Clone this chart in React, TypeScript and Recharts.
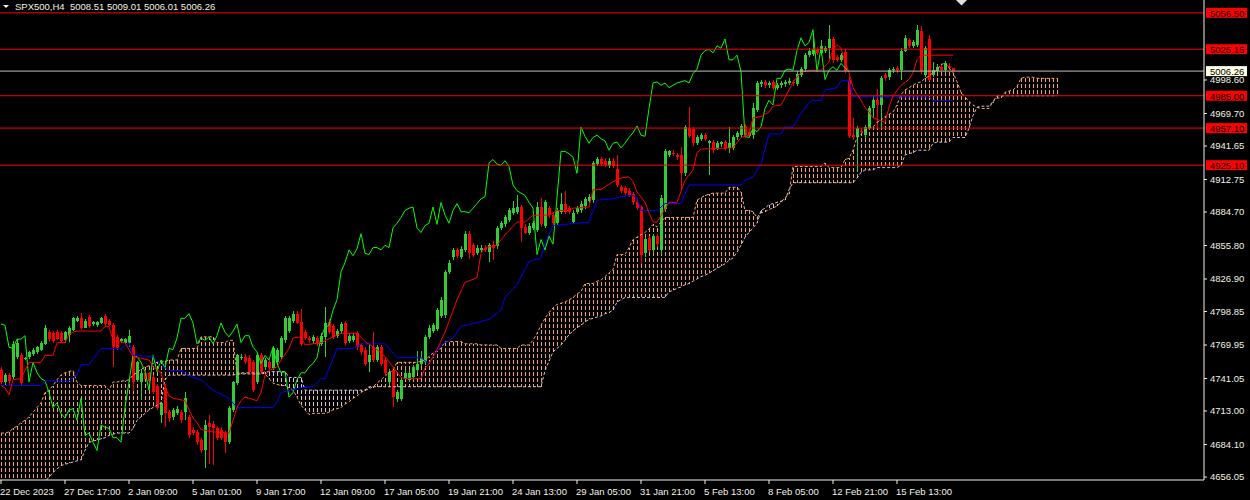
import React from "react";
import { Bar, ComposedChart, Line, ReferenceLine, XAxis, YAxis } from "recharts";

// open, high, low, close per H4 bar, from 22 Dec 2023 onwards
const candles: [number, number, number, number][] = [
  [4748, 4751, 4736, 4738], [4738, 4746, 4735, 4744], [4744, 4746, 4736, 4739], [4742, 4773, 4740, 4771],
  [4760, 4775, 4758, 4772], [4761, 4763, 4735, 4737], [4758, 4760, 4757, 4759], [4760, 4765, 4758, 4764],
  [4762, 4767, 4760, 4766], [4764, 4769, 4762, 4768], [4766, 4773, 4764, 4772], [4771, 4787, 4770, 4785],
  [4781, 4783, 4773, 4775], [4780, 4782, 4772, 4773], [4781, 4783, 4774, 4775], [4780, 4782, 4772, 4773],
  [4774, 4782, 4772, 4781], [4779, 4786, 4772, 4785], [4783, 4794, 4782, 4793], [4791, 4795, 4790, 4793],
  [4793, 4798, 4784, 4785], [4785, 4792, 4784, 4791], [4794, 4796, 4785, 4786], [4788, 4791, 4787, 4790],
  [4787, 4791, 4786, 4790], [4789, 4794, 4788, 4793], [4795, 4797, 4787, 4788], [4791, 4792, 4786, 4787],
  [4787, 4789, 4751, 4768], [4777, 4779, 4766, 4767], [4773, 4776, 4772, 4775], [4772, 4776, 4771, 4775],
  [4772, 4783, 4768, 4778], [4768, 4770, 4730, 4738], [4740, 4756, 4738, 4755], [4738, 4748, 4722, 4746],
  [4746, 4748, 4740, 4741], [4746, 4747, 4738, 4739], [4742, 4744, 4728, 4729], [4735, 4736, 4714, 4716],
  [4710, 4721, 4703, 4720], [4733, 4736, 4699, 4711], [4712, 4714, 4704, 4707], [4708, 4716, 4706, 4714],
  [4711, 4717, 4709, 4715], [4712, 4714, 4703, 4705], [4712, 4729, 4705, 4724], [4708, 4710, 4690, 4692],
  [4697, 4699, 4692, 4694], [4695, 4697, 4684, 4686], [4688, 4690, 4677, 4679], [4679, 4705, 4664, 4701],
  [4703, 4710, 4668, 4699], [4702, 4704, 4666, 4698], [4698, 4700, 4688, 4690], [4697, 4699, 4688, 4690],
  [4694, 4696, 4677, 4686], [4686, 4717, 4684, 4716], [4714, 4739, 4712, 4738], [4737, 4762, 4735, 4761],
  [4759, 4762, 4757, 4760], [4760, 4762, 4753, 4755], [4759, 4761, 4745, 4747], [4755, 4757, 4729, 4731],
  [4738, 4763, 4736, 4761], [4761, 4763, 4745, 4747], [4751, 4759, 4749, 4757], [4755, 4757, 4748, 4750],
  [4750, 4769, 4748, 4767], [4755, 4767, 4752, 4766], [4760, 4778, 4758, 4776], [4774, 4795, 4772, 4793],
  [4782, 4795, 4780, 4793], [4791, 4799, 4789, 4797], [4797, 4799, 4788, 4789], [4790, 4801, 4769, 4771],
  [4781, 4783, 4774, 4776], [4776, 4778, 4772, 4774], [4773, 4779, 4771, 4777], [4776, 4778, 4769, 4771],
  [4771, 4780, 4769, 4778], [4777, 4803, 4760, 4789], [4790, 4792, 4779, 4781], [4786, 4788, 4775, 4777],
  [4778, 4784, 4776, 4782], [4782, 4790, 4780, 4788], [4789, 4791, 4770, 4772], [4773, 4780, 4771, 4778],
  [4774, 4780, 4772, 4778], [4780, 4782, 4766, 4768], [4770, 4772, 4762, 4764], [4766, 4768, 4752, 4754],
  [4755, 4770, 4747, 4761], [4768, 4781, 4755, 4757], [4757, 4770, 4755, 4768], [4768, 4770, 4752, 4754],
  [4757, 4759, 4744, 4746], [4738, 4749, 4735, 4747], [4748, 4750, 4716, 4725], [4723, 4731, 4721, 4729],
  [4723, 4742, 4721, 4740], [4741, 4748, 4739, 4746], [4740, 4748, 4738, 4746], [4742, 4753, 4740, 4751],
  [4748, 4765, 4746, 4754], [4754, 4765, 4752, 4759], [4755, 4779, 4753, 4777], [4777, 4787, 4775, 4785],
  [4782, 4789, 4780, 4787], [4784, 4802, 4782, 4800], [4795, 4811, 4793, 4809], [4796, 4835, 4794, 4833],
  [4833, 4843, 4831, 4841], [4846, 4854, 4844, 4852], [4852, 4854, 4845, 4847], [4846, 4855, 4844, 4853],
  [4852, 4868, 4850, 4866], [4866, 4868, 4844, 4849], [4856, 4858, 4846, 4848], [4849, 4856, 4847, 4854],
  [4852, 4856, 4850, 4854], [4854, 4856, 4850, 4852], [4850, 4858, 4842, 4856], [4856, 4860, 4844, 4854],
  [4855, 4873, 4853, 4871], [4871, 4877, 4869, 4875], [4874, 4882, 4872, 4880], [4878, 4888, 4876, 4886],
  [4884, 4894, 4882, 4888], [4885, 4899, 4883, 4889], [4889, 4891, 4859, 4871], [4872, 4874, 4865, 4867],
  [4867, 4875, 4865, 4873], [4871, 4877, 4869, 4875], [4869, 4893, 4867, 4889], [4889, 4897, 4872, 4874],
  [4873, 4895, 4871, 4893], [4888, 4890, 4880, 4882], [4882, 4884, 4873, 4875], [4875, 4888, 4873, 4886],
  [4885, 4901, 4883, 4892], [4892, 4903, 4883, 4885], [4888, 4890, 4883, 4885], [4876, 4886, 4874, 4884],
  [4885, 4890, 4883, 4888], [4886, 4894, 4884, 4892], [4890, 4898, 4888, 4896], [4894, 4900, 4892, 4898],
  [4895, 4929, 4893, 4927], [4926, 4932, 4924, 4930], [4930, 4932, 4924, 4926], [4929, 4931, 4923, 4925],
  [4924, 4931, 4922, 4929], [4929, 4931, 4922, 4924], [4922, 4934, 4906, 4908], [4906, 4908, 4901, 4903],
  [4905, 4907, 4899, 4901], [4903, 4905, 4897, 4899], [4900, 4902, 4891, 4893], [4893, 4895, 4886, 4888],
  [4889, 4891, 4840, 4848], [4849, 4863, 4846, 4861], [4862, 4864, 4850, 4852], [4852, 4866, 4850, 4864],
  [4864, 4866, 4855, 4857], [4852, 4899, 4848, 4897], [4887, 4939, 4885, 4937], [4934, 4938, 4932, 4937],
  [4936, 4938, 4933, 4935], [4934, 4936, 4930, 4932], [4934, 4941, 4904, 4918], [4918, 4960, 4916, 4958],
  [4957, 4975, 4948, 4950], [4956, 4958, 4942, 4944], [4944, 4951, 4942, 4949], [4948, 4953, 4946, 4951],
  [4951, 4953, 4946, 4948], [4944, 4947, 4917, 4946], [4945, 4947, 4936, 4938], [4940, 4946, 4938, 4944],
  [4943, 4946, 4941, 4945], [4945, 4947, 4938, 4940], [4940, 4958, 4936, 4944], [4940, 4951, 4938, 4949],
  [4949, 4955, 4947, 4953], [4951, 4961, 4949, 4959], [4959, 4961, 4949, 4951], [4954, 4956, 4948, 4950],
  [4951, 4979, 4948, 4974], [4973, 4998, 4971, 4996], [4995, 4999, 4993, 4997], [4997, 4999, 4992, 4994],
  [4994, 4998, 4992, 4996], [4997, 4999, 4990, 4992], [4992, 4996, 4990, 4994], [4994, 4998, 4992, 4996],
  [4995, 4999, 4993, 4997], [4996, 5000, 4994, 4998], [4997, 4999, 4994, 4996], [4995, 5006, 4993, 5004],
  [5003, 5010, 5001, 5008], [5008, 5022, 5006, 5020], [5020, 5026, 5018, 5024], [5021, 5039, 5019, 5025],
  [5025, 5027, 5020, 5022], [5022, 5033, 5020, 5028], [5024, 5028, 5022, 5026], [5026, 5046, 5017, 5034],
  [5034, 5036, 5014, 5016], [5018, 5020, 5014, 5016], [5016, 5022, 5014, 5020], [5023, 5025, 5004, 5006],
  [4999, 5001, 4948, 4950], [4951, 4966, 4947, 4949], [4949, 4959, 4919, 4957], [4955, 4957, 4952, 4954],
  [4951, 4960, 4949, 4958], [4957, 4976, 4955, 4974], [4974, 4985, 4966, 4981], [4981, 4991, 4957, 4977],
  [4977, 5002, 4957, 5000], [5003, 5005, 4998, 5000], [5001, 5009, 4999, 5007], [5007, 5010, 5005, 5008],
  [5009, 5011, 5005, 5007], [5007, 5026, 4998, 5024], [5024, 5037, 5022, 5035], [5033, 5035, 5026, 5028],
  [5028, 5033, 5026, 5031], [5029, 5046, 5027, 5042], [5041, 5045, 5004, 5006], [5003, 5028, 5001, 5026],
  [5034, 5037, 4997, 4999], [5003, 5014, 5001, 5007], [5006, 5012, 5004, 5010], [5010, 5012, 5005, 5007],
  [5007, 5015, 5005, 5013], [5011, 5013, 5007, 5009], [5008.51, 5009.01, 5006.01, 5006.26],
];

// Tenkan-sen and Kijun-sen turning points: [bar, price]
const tenkan: [number, number][] = [
  [0, 4735], [1, 4733], [2, 4727], [3, 4740], [5, 4741], [6, 4748], [7, 4755], [10, 4755], [11, 4761],
  [13, 4761], [14, 4772], [16, 4772], [17, 4779], [18, 4781], [19, 4782], [25, 4782], [26, 4786], [27, 4786],
  [28, 4774], [31, 4772], [32, 4766], [33, 4760], [37, 4757], [38, 4751], [40, 4746], [41, 4734], [42, 4726],
  [43, 4724], [46, 4722], [48, 4707], [49, 4703], [50, 4697], [53, 4695], [57, 4694], [58, 4705], [59, 4716],
  [60, 4722], [61, 4725], [64, 4722], [65, 4729], [66, 4744], [67, 4748], [69, 4751], [70, 4757], [72, 4767],
  [73, 4776], [75, 4777], [76, 4770], [80, 4772], [83, 4777], [85, 4780], [89, 4780], [91, 4773], [94, 4766],
  [96, 4760], [98, 4751], [100, 4742], [101, 4741], [105, 4741], [106, 4750], [107, 4754], [109, 4766],
  [111, 4781], [114, 4809], [116, 4824], [119, 4828], [120, 4849], [121, 4854], [124, 4856], [126, 4865],
  [129, 4876], [131, 4876], [133, 4882], [137, 4882], [139, 4886], [142, 4886], [143, 4888], [147, 4889],
  [148, 4904], [150, 4904], [153, 4911], [155, 4914], [157, 4915], [158, 4911], [159, 4902], [161, 4893],
  [162, 4884], [163, 4876], [164, 4876], [167, 4893], [169, 4893], [171, 4912], [173, 4921], [174, 4936],
  [175, 4939], [183, 4940], [185, 4949], [187, 4951], [188, 4966], [190, 4967], [192, 4971], [193, 4976],
  [195, 4977], [197, 4990], [198, 4997], [200, 5005], [202, 5007], [205, 5007], [207, 5014], [208, 5025],
  [209, 5029], [210, 5026], [211, 5014], [212, 5005], [213, 4992], [215, 4981], [216, 4975], [217, 4971],
  [218, 4966], [221, 4962], [222, 4975], [223, 4985], [225, 4994], [227, 4999], [228, 5005], [229, 5016],
  [230, 5020], [238, 5020],
];

const kijun: [number, number][] = [
  [0, 4735], [10, 4735], [11, 4739], [17, 4739], [19, 4744], [20, 4753], [22, 4753], [25, 4767], [30, 4767],
  [32, 4772], [33, 4761], [38, 4760], [40, 4753], [42, 4748], [45, 4748], [48, 4742], [50, 4740], [53, 4731],
  [57, 4724], [59, 4716], [68, 4716], [69, 4721], [70, 4729], [75, 4733], [78, 4734], [80, 4741], [81, 4741],
  [84, 4767], [88, 4767], [90, 4771], [96, 4771], [99, 4759], [105, 4759], [107, 4754], [110, 4770],
  [113, 4776], [115, 4786], [122, 4792], [125, 4800], [126, 4811], [129, 4822], [132, 4842], [135, 4845],
  [136, 4858], [138, 4873], [147, 4876], [148, 4886], [149, 4895], [153, 4896], [155, 4898], [158, 4899],
  [159, 4897], [160, 4886], [164, 4886], [166, 4892], [170, 4892], [172, 4908], [185, 4908], [186, 4912],
  [188, 4915], [190, 4926], [192, 4952], [195, 4952], [196, 4958], [198, 4958], [200, 4970], [202, 4979],
  [203, 4981], [205, 4981], [206, 4990], [209, 4992], [210, 4998], [212, 4998], [213, 4984], [232, 4984],
  [233, 4981], [238, 4981],
];

// Senkou Span A / B per bar (cloud runs 26 bars past the last candle)
const spanA = [
  4694, 4694, 4695, 4698, 4700, 4703, 4705, 4708, 4712, 4716,
  4720, 4729, 4731, 4735, 4740, 4744, 4746, 4747, 4748, 4738,
  4735, 4735, 4735, 4735, 4735, 4735, 4735, 4731, 4738, 4738,
  4739, 4739, 4740, 4744, 4746, 4749, 4751, 4752, 4754, 4755,
  4756, 4756, 4757, 4757, 4757, 4767, 4767, 4767, 4767, 4767,
  4777, 4777, 4777, 4777, 4772, 4772, 4772, 4774, 4774, 4746,
  4746, 4746, 4746, 4746, 4746, 4746, 4745, 4741, 4737, 4736,
  4735, 4735, 4733, 4731, 4725, 4718, 4714, 4710, 4711, 4711,
  4711, 4711, 4712, 4714, 4715, 4716, 4719, 4721, 4724, 4726,
  4729, 4731, 4732, 4734, 4737, 4740, 4743, 4746, 4748, 4755,
  4755, 4755, 4755, 4755, 4755, 4756, 4757, 4760, 4763, 4765,
  4767, 4773, 4773, 4773, 4773, 4773, 4771, 4771, 4771, 4771,
  4770, 4770, 4770, 4770, 4770, 4767, 4767, 4767, 4767, 4767,
  4770, 4770, 4770, 4774, 4780, 4787, 4793, 4798, 4802, 4805,
  4806, 4807, 4809, 4811, 4814, 4816, 4823, 4823, 4823, 4825,
  4826, 4829, 4832, 4835, 4848, 4848, 4848, 4854, 4861, 4863,
  4865, 4867, 4870, 4874, 4872, 4876, 4880, 4880, 4880, 4880,
  4880, 4880, 4880, 4880, 4895, 4897, 4899, 4900, 4901, 4901,
  4901, 4901, 4906, 4906, 4906, 4902, 4886, 4886, 4885, 4880,
  4884, 4885, 4887, 4888, 4890, 4893, 4897, 4900, 4924, 4924,
  4924, 4924, 4924, 4924, 4924, 4924, 4927, 4923, 4923, 4923,
  4923, 4930, 4931, 4938, 4949, 4952, 4955, 4957, 4958, 4962,
  4964, 4967, 4969, 4971, 4977, 4986, 4990, 4992, 4994, 4996,
  4997, 5000, 5002, 5005, 5007, 5012, 5013, 5009, 5005, 4997,
  4988, 4984, 4980, 4977, 4975, 4974, 4974, 4974, 4980, 4983,
  4983, 4988, 4989, 4990, 4993, 5000, 5001, 5001, 5001, 5000,
  5000, 5000, 5000, 5000, 5000,
];

const spanB = [
  4640, 4641, 4642, 4643, 4644, 4644, 4645, 4646, 4647, 4647,
  4648, 4652, 4656, 4660, 4663, 4666, 4667, 4668, 4669, 4670,
  4671, 4679, 4686, 4687, 4688, 4689, 4690, 4692, 4693, 4694,
  4694, 4694, 4694, 4698, 4705, 4708, 4711, 4714, 4716, 4718,
  4720, 4740, 4744, 4744, 4744, 4744, 4744, 4744, 4744, 4744,
  4744, 4744, 4744, 4744, 4744, 4744, 4744, 4744, 4744, 4745,
  4745, 4745, 4745, 4745, 4745, 4745, 4747, 4747, 4747, 4747,
  4747, 4747, 4742, 4742, 4742, 4742, 4731, 4731, 4731, 4731,
  4731, 4731, 4731, 4731, 4731, 4731, 4731, 4731, 4731, 4731,
  4731, 4731, 4734, 4734, 4734, 4734, 4734, 4734, 4734, 4734,
  4734, 4734, 4734, 4734, 4734, 4734, 4734, 4734, 4734, 4734,
  4734, 4734, 4734, 4734, 4734, 4734, 4734, 4734, 4734, 4734,
  4734, 4734, 4734, 4734, 4734, 4734, 4734, 4734, 4734, 4734,
  4734, 4734, 4734, 4734, 4734, 4734, 4748, 4756, 4764, 4767,
  4770, 4774, 4779, 4782, 4785, 4787, 4790, 4792, 4793, 4794,
  4795, 4797, 4798, 4800, 4807, 4809, 4811, 4811, 4811, 4811,
  4811, 4811, 4811, 4811, 4811, 4811, 4811, 4816, 4817, 4819,
  4820, 4822, 4823, 4825, 4827, 4829, 4830, 4832, 4834, 4836,
  4838, 4840, 4843, 4845, 4850, 4856, 4863, 4867, 4871, 4875,
  4886, 4888, 4891, 4892, 4893, 4894, 4895, 4904, 4910, 4910,
  4910, 4910, 4910, 4910, 4910, 4910, 4910, 4910, 4910, 4910,
  4910, 4910, 4910, 4910, 4914, 4919, 4921, 4921, 4921, 4923,
  4923, 4923, 4923, 4923, 4923, 4925, 4934, 4935, 4936, 4938,
  4938, 4938, 4938, 4944, 4945, 4945, 4945, 4945, 4949, 4949,
  4949, 4949, 4957, 4968, 4975, 4976, 4976, 4976, 4980, 4985,
  4985, 4985, 4985, 4985, 4985, 4985, 4985, 4985, 4985, 4985,
  4985, 4985, 4985, 4985, 4985,
];

const timeTicks = [0, 16, 32, 48, 64, 80, 96, 112, 128, 144, 160, 176, 192, 208, 224];
const timeLabels = [
  "22 Dec 2023", "27 Dec 17:00", "2 Jan 09:00", "5 Jan 01:00", "9 Jan 17:00", "12 Jan 09:00",
  "17 Jan 05:00", "19 Jan 21:00", "24 Jan 13:00", "29 Jan 05:00", "31 Jan 21:00", "5 Feb 13:00",
  "8 Feb 05:00", "12 Feb 21:00", "15 Feb 13:00",
];
const priceTicks = [
  4656.05, 4684.1, 4713.0, 4741.05, 4769.95, 4798.85, 4826.9, 4855.8, 4884.7, 4912.75, 4941.65, 4969.7, 4998.6,
];
const levels = [5056.5, 5025.15, 4985.0, 4957.1, 4925.1];
const bid = 5006.26;
const chikouShift = 26;

const FG = "#F2F2E6";
const FONT = '"Liberation Sans", Arial, sans-serif';
const BULL = "#32CD32";
const BEAR = "#FF0000";
const KUMO_UP = "#F4A460";
const KUMO_DOWN = "#D8BFD8";

const tenkanAt = new Map(tenkan);
const kijunAt = new Map(kijun);

const rows = spanA.map((a, i) => {
  const c = candles[i];
  const b = spanB[i];
  const ahead = candles[i + chikouShift];
  return {
    i,
    range: c ? [c[2], c[1]] : null,
    open: c ? c[0] : null,
    high: c ? c[1] : null,
    low: c ? c[2] : null,
    close: c ? c[3] : null,
    tenkan: tenkanAt.get(i) ?? null,
    kijun: kijunAt.get(i) ?? null,
    chikou: ahead ? ahead[3] : null,
    spanA: a,
    spanB: b,
    kumoUp: a >= b ? [b, a] : null,
    kumoDown: a < b ? [a, b] : null,
  };
});

function Candle(props: any) {
  const { x, y, width, height, payload } = props;
  if (!payload || payload.open == null) return null;
  const top = Math.min(y, y + height);
  const h = Math.abs(height);
  const { open, high, low, close } = payload;
  const span = high - low || 1;
  const px = (p: number) => top + ((high - p) / span) * h;
  const cx = Math.round(x + width / 2);
  const color = close >= open ? BULL : BEAR;
  const bTop = Math.round(px(Math.max(open, close)));
  const bBot = Math.round(px(Math.min(open, close)));
  return (
    <g shapeRendering="crispEdges">
      <rect x={cx} y={Math.round(top)} width={1} height={Math.max(1, Math.round(h))} fill={color} />
      <rect x={cx - 1} y={bTop} width={3} height={Math.max(1, bBot - bTop)} fill={color} />
    </g>
  );
}

// one dotted histogram column per bar, dashes kept on a common row grid
function makeKumoColumn(tone: string) {
  return function KumoColumn(props: any) {
    const { x, y, width, height } = props;
    if (x == null || y == null || !Number.isFinite(height)) return null;
    const y0 = Math.round(Math.min(y, y + height));
    const y1 = Math.max(y0 + 1, Math.round(Math.max(y, y + height)));
    const cx = Math.round(x + width / 2);
    const dashes = [];
    for (let t = y0 - (((y0 % 6) + 6) % 6); t < y1; t += 6) {
      const s = Math.max(t, y0);
      const e = Math.min(t + 4, y1);
      if (e > s) dashes.push(<rect key={t} x={cx} y={s} width={1} height={e - s} fill={tone} />);
    }
    return <g shapeRendering="crispEdges">{dashes}</g>;
  };
}
const KumoUpColumn = makeKumoColumn(KUMO_UP);
const KumoDownColumn = makeKumoColumn(KUMO_DOWN);

function TimeTick(props: any) {
  const { x, y, payload } = props;
  const label = timeLabels[timeTicks.indexOf(payload.value)];
  return (
    <text x={x - 1} y={y + 9} fill={FG} fontSize={9.5} fontFamily={FONT} textAnchor="start">
      {label}
    </text>
  );
}

function PriceTag(props: any) {
  const { viewBox, text, bg } = props;
  const left = viewBox.x + viewBox.width + 2;
  const y = viewBox.y;
  return (
    <g>
      <rect x={left} y={y - 5} width={41} height={10} fill={bg} />
      <text x={left + 4} y={y + 4} fontSize={9.5} fontFamily={FONT} fill="#000000">
        {text}
      </text>
    </g>
  );
}

export default function App() {
  return (
    <div style={{ position: "absolute", left: 0, top: 0, width: 1250, height: 500, background: "#000000" }}>
      <ComposedChart width={1250} height={500} data={rows} margin={{ top: 0, right: 0, bottom: 0, left: 0 }}>
        <XAxis
          dataKey="i"
          type="number"
          domain={[-0.25, 300.75]}
          ticks={timeTicks}
          interval={0}
          height={20}
          tick={<TimeTick />}
          tickSize={4}
          tickMargin={2}
          stroke={FG}
          axisLine={{ stroke: FG }}
          tickLine={{ stroke: FG }}
        />
        <XAxis xAxisId="up" dataKey="i" type="number" domain={[-0.25, 300.75]} hide />
        <XAxis xAxisId="down" dataKey="i" type="number" domain={[-0.25, 300.75]} hide />
        <YAxis
          orientation="right"
          domain={[4653.5, 5067.6]}
          allowDataOverflow
          ticks={priceTicks}
          interval={0}
          width={46}
          tickSize={3}
          tickMargin={3}
          tickFormatter={(v: number) => v.toFixed(2)}
          tick={{ fill: FG, fontSize: 9.5, fontFamily: FONT }}
          axisLine={{ stroke: FG }}
          tickLine={{ stroke: FG }}
        />
        <Bar xAxisId="up" dataKey="kumoUp" barSize={3} fill={KUMO_UP} shape={KumoUpColumn} isAnimationActive={false} />
        <Bar xAxisId="down" dataKey="kumoDown" barSize={3} fill={KUMO_DOWN} shape={KumoDownColumn} isAnimationActive={false} />
        <Line dataKey="spanA" stroke={KUMO_UP} strokeDasharray="3 2" dot={false} activeDot={false} isAnimationActive={false} />
        <Line dataKey="spanB" stroke={KUMO_DOWN} strokeDasharray="3 2" dot={false} activeDot={false} isAnimationActive={false} />
        <Line dataKey="chikou" stroke="#00FF00" dot={false} activeDot={false} isAnimationActive={false} />
        <Line dataKey="kijun" stroke="#0000FF" dot={false} activeDot={false} connectNulls isAnimationActive={false} />
        <Line dataKey="tenkan" stroke="#FF0000" dot={false} activeDot={false} connectNulls isAnimationActive={false} />
        <Bar dataKey="range" barSize={3} shape={<Candle />} isAnimationActive={false} />
        {levels.map((lv) => (
          <ReferenceLine
            key={lv}
            y={lv}
            stroke="#FF0000"
            label={<PriceTag text={lv.toFixed(2)} bg="#FF0000" />}
          />
        ))}
        <ReferenceLine y={bid} stroke="#C0C0C0" label={<PriceTag text={bid.toFixed(2)} bg="#FFFFE6" />} />
      </ComposedChart>
      <div
        style={{
          position: "absolute",
          left: 15,
          top: 1,
          color: FG,
          fontFamily: FONT,
          fontSize: 9.5,
          lineHeight: "11px",
          whiteSpace: "pre",
        }}
      >
        SPX500,H4  5008.51 5009.01 5006.01 5006.26
      </div>
      <svg width={1250} height={12} style={{ position: "absolute", left: 0, top: 0 }}>
        <polygon points="3,5 9,5 6,8" fill={FG} />
        <polygon points="956,0 967,0 961.5,5.5" fill="#E0E0E0" />
      </svg>
    </div>
  );
}
